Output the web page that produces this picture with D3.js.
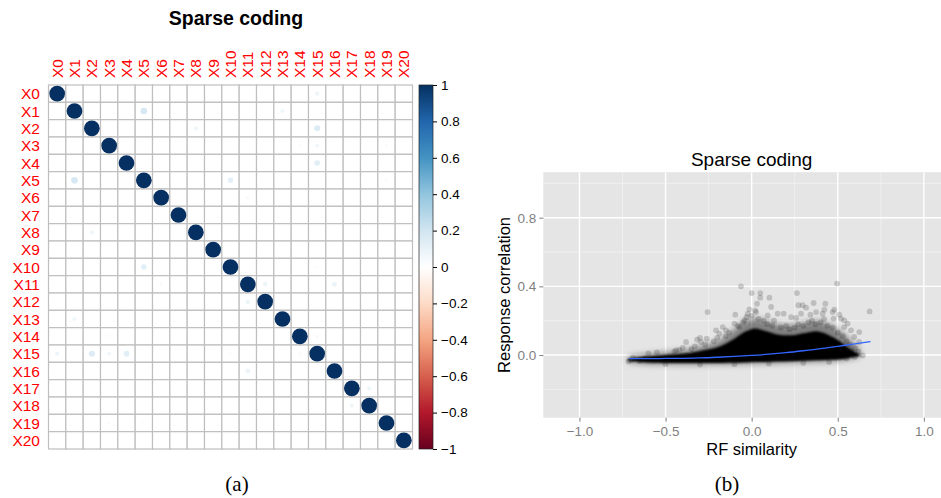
<!DOCTYPE html>
<html>
<head>
<meta charset="utf-8">
<script src="https://cdn.jsdelivr.net/npm/d3@7"></script>
<style>
  html, body { margin: 0; padding: 0; background: #fff; }
  svg { display: block; }
  text { font-family: "Liberation Sans", Arial, Helvetica, sans-serif; }
</style>
</head>
<body>
<svg id="fig" width="941" height="498"></svg>
<script>
// ---------- Panel (a): correlation matrix of sparse-coding units ----------
const units = d3.range(21).map(i => "X" + i);

// Lower triangle of the correlation matrix (row i holds columns 0..i-1); diagonal is 1.
const corrLower = [
  [],
  [0.01],
  [0.01, 0.01],
  [0.00, 0.01, 0.01],
  [0.01, 0.01, 0.01, 0.01],
  [0.01, 0.18, 0.01, 0.01, 0.01],
  [0.01, 0.00, 0.01, 0.01, 0.01, 0.01],
  [0.01, 0.02, 0.01, 0.00, 0.01, 0.01, 0.01],
  [0.01, 0.01, 0.07, 0.01, 0.01, 0.01, 0.00, 0.01],
  [0.01, 0.00, 0.01, 0.01, 0.01, 0.00, 0.01, 0.01, 0.02],
  [0.01, 0.01, 0.01, 0.01, 0.01, 0.12, 0.01, 0.00, 0.01, 0.01],
  [0.01, 0.01, 0.01, 0.01, 0.00, 0.00, 0.04, 0.00, 0.01, 0.01, 0.01],
  [0.00, 0.01, 0.01, 0.01, 0.01, 0.00, 0.01, 0.01, 0.01, 0.01, 0.00, 0.08],
  [0.01, 0.07, 0.01, 0.01, 0.01, 0.01, 0.01, 0.01, 0.01, 0.00, 0.01, 0.00, 0.01],
  [0.01, 0.01, 0.00, 0.03, 0.01, 0.00, 0.01, 0.01, 0.01, 0.02, 0.01, 0.01, 0.01, 0.01],
  [0.075, 0.01, 0.15, 0.065, 0.13, 0.01, 0.01, 0.01, 0.01, 0.01, 0.03, 0.01, 0.02, 0.01, 0.04],
  [0.01, 0.01, 0.01, 0.01, 0.01, 0.01, 0.01, 0.01, 0.01, 0.00, 0.00, 0.09, 0.01, 0.01, 0.01, 0.01],
  [0.01, 0.00, 0.01, 0.01, 0.01, 0.01, 0.01, 0.00, 0.01, 0.01, 0.00, 0.01, 0.01, 0.01, 0.01, 0.01, 0.01],
  [0.01, -0.01, -0.01, 0.01, -0.01, 0.01, -0.01, 0.01, 0.01, -0.01, 0.01, -0.02, 0.01, 0.01, 0.01, 0.01, 0.01, 0.07],
  [0.01, 0.00, 0.01, 0.03, 0.01, 0.03, 0.00, 0.01, 0.01, 0.01, 0.01, 0.01, 0.01, 0.01, 0.01, 0.01, 0.01, 0.01, 0.01],
  [0.00, 0.01, 0.01, 0.01, 0.01, 0.01, 0.01, 0.00, 0.01, 0.01, 0.01, 0.01, 0.01, 0.01, 0.01, 0.01, 0.01, 0.01, 0.01, 0.01]
];

// Diverging palette (red - white - blue) used for correlations.
const paletteStops = ["#67001F","#B2182B","#D6604D","#F4A582","#FDDBC7","#FFFFFF",
                      "#D1E5F0","#92C5DE","#4393C3","#2166AC","#053061"];
const legendTicks = [1, 0.8, 0.6, 0.4, 0.2, 0, -0.2, -0.4, -0.6, -0.8, -1];

// ---------- Panel (b): response correlation vs RF similarity ----------
// Dense core of the point cloud: upper / lower envelope at each RF similarity.
const coreX     = [-0.72, -0.65, -0.575, -0.5, -0.38, -0.3, -0.19, -0.1, -0.04, 0.02, 0.08, 0.15, 0.23, 0.31, 0.38, 0.46, 0.52, 0.58, 0.63];
const coreUpper = [-0.024, -0.013, -0.006, 0.0, 0.01, 0.024, 0.048, 0.095, 0.135, 0.155, 0.14, 0.12, 0.115, 0.128, 0.138, 0.11, 0.075, 0.03, 0.002];
const coreLower = [-0.034, -0.041, -0.045, -0.046, -0.047, -0.047, -0.046, -0.045, -0.043, -0.041, -0.04, -0.038, -0.036, -0.034, -0.031, -0.028, -0.024, -0.014, -0.004];
// Semi-dense halo around the core.
const haloUpper = [-0.012, 0.0, 0.008, 0.016, 0.03, 0.05, 0.085, 0.15, 0.2, 0.215, 0.2, 0.18, 0.175, 0.19, 0.2, 0.175, 0.135, 0.08, 0.03];
const haloLower = [-0.042, -0.049, -0.053, -0.054, -0.055, -0.055, -0.054, -0.053, -0.051, -0.049, -0.048, -0.046, -0.044, -0.042, -0.039, -0.036, -0.031, -0.022, -0.008];

// Individual sparse points outside the dense cloud.
const sparseX = [-0.256, -0.062, -0.095, -0.381, -0.40, -0.317, -0.294, -0.30, -0.261, -0.207, -0.188, -0.168, -0.149, -0.439, -0.714, -0.69,
  -0.1, -0.071, -0.042, -0.023, 0.496, 0.0, 0.05, 0.05, 0.103, 0.263, 0.271, 0.296, 0.316, 0.36, 0.428, 0.685, -0.013, 0.031, 0.026,
  0.113, 0.093, 0.151, 0.186, 0.229, 0.258, 0.287, 0.341, 0.374, 0.412, 0.422, 0.47, 0.48, 0.509, 0.538, 0.557, 0.538, 0.577, 0.625,
  0.596, 0.625, 0.645, 0.577, 0.519, 0.476,
  -0.6, -0.55, -0.45, -0.42, -0.35, -0.33, -0.27, -0.22, -0.2, -0.15, -0.13, -0.08, -0.05, -0.03, 0.0, 0.02, 0.04, 0.07, 0.09, 0.12,
  0.13, 0.17, 0.2, 0.22, 0.25, 0.27, 0.3, 0.33, 0.35, 0.37, 0.4, 0.42, 0.44, 0.47, 0.5, 0.53, 0.55, 0.57, 0.6, 0.62, 0.6, 0.55,
  -0.7, -0.65, -0.62, -0.5, -0.3, -0.1, 0.1, 0.3, 0.45];
const sparseY = [0.25, 0.40, 0.235, 0.076, 0.041, 0.09, 0.076, 0.10, 0.095, 0.144, 0.125, 0.163, 0.144, 0.027, -0.037, -0.015,
  0.183, 0.163, 0.202, 0.241, 0.416, 0.361, 0.361, 0.334, 0.334, 0.361, 0.29, 0.29, 0.276, 0.303, 0.299, 0.254, 0.266, 0.299, 0.25,
  0.28, 0.231, 0.241, 0.241, 0.221, 0.216, 0.241, 0.235, 0.25, 0.241, 0.264, 0.25, 0.264, 0.235, 0.202, 0.183, 0.163, 0.144, 0.134,
  0.105, 0.076, -0.002, 0.027, 0.212, 0.212,
  0.01, 0.015, 0.02, 0.03, 0.035, 0.05, 0.06, 0.08, 0.1, 0.11, 0.13, 0.17, 0.19, 0.22, 0.23, 0.26, 0.21, 0.2, 0.18, 0.17,
  0.2, 0.16, 0.17, 0.15, 0.16, 0.18, 0.17, 0.19, 0.2, 0.18, 0.19, 0.21, 0.17, 0.16, 0.13, 0.11, 0.08, 0.06, 0.04, 0.02, -0.01, -0.02,
  -0.03, -0.035, -0.02, -0.052, -0.055, -0.053, -0.05, -0.045, -0.04];

// Smoothed trend.
const smoothX = [-0.71, -0.6, -0.5, -0.4, -0.3, -0.2, -0.1, 0, 0.1, 0.2, 0.3, 0.4, 0.5, 0.6, 0.69];
const smoothY = [-0.021, -0.021, -0.02, -0.019, -0.017, -0.013, -0.008, -0.002, 0.005, 0.014, 0.025, 0.037, 0.051, 0.065, 0.078];

const xTicks = [-1, -0.5, 0, 0.5, 1];
const xMinor = [-0.75, -0.25, 0.25, 0.75];
const yTicks = [0, 0.4, 0.8];
const yMinor = [-0.2, 0.2, 0.6, 1.0];

// =====================================================================
const svg = d3.select("#fig");
const defs = svg.append("defs");

// ---------- draw panel (a) ----------
const gA = svg.append("g");
const gridL = 48.5, gridT = 85, gridSize = 364;
const band = d3.scaleBand().domain(units).range([0, gridSize]);
const cell = band.bandwidth();
const color = d3.scaleLinear()
  .domain(d3.range(11).map(i => -1 + i * 0.2))
  .range(paletteStops)
  .interpolate(d3.interpolateRgb);
const rScale = d3.scaleSqrt().domain([0, 1]).range([0, cell * 0.453]);

const cells = [];
units.forEach((ri, i) => {
  units.forEach((cj, j) => {
    let v;
    if (i === j) v = 1;
    else if (j < i) v = corrLower[i][j];
    else v = corrLower[j][i];
    cells.push({ row: ri, col: cj, v });
  });
});

const mat = gA.append("g").attr("transform", `translate(${gridL},${gridT})`);
mat.selectAll("rect.cell").data(cells).join("rect")
  .attr("class", "cell")
  .attr("x", d => band(d.col)).attr("y", d => band(d.row))
  .attr("width", cell).attr("height", cell)
  .attr("fill", "#fff").attr("stroke", "#BEBEBE").attr("stroke-width", 1.2);
mat.selectAll("circle").data(cells).join("circle")
  .attr("cx", d => band(d.col) + cell / 2)
  .attr("cy", d => band(d.row) + cell / 2)
  .attr("r", d => rScale(Math.abs(d.v)))
  .attr("fill", d => color(d.v));

// row labels
gA.append("g").selectAll("text").data(units).join("text")
  .attr("x", 40)
  .attr("y", d => gridT + band(d) + cell / 2)
  .attr("dy", "0.36em")
  .attr("text-anchor", "end")
  .attr("fill", "#FF0000")
  .style("font-size", "15.5px")
  .text(d => d);
// column labels (vertical)
gA.append("g").selectAll("text").data(units).join("text")
  .attr("transform", d => `translate(${gridL + band(d) + cell / 2},${gridT - 7}) rotate(-90)`)
  .attr("dy", "0.36em")
  .attr("text-anchor", "start")
  .attr("fill", "#FF0000")
  .style("font-size", "15.5px")
  .text(d => d);

gA.append("text")
  .attr("x", 236).attr("y", 25)
  .attr("text-anchor", "middle")
  .style("font-size", "19.5px").style("font-weight", "bold")
  .text("Sparse coding");

// colour legend
const legX = 419, legW = 14, legTop = 85, legBot = 449;
const legScale = d3.scaleLinear().domain([1, -1]).range([legTop, legBot]);
const grad = defs.append("linearGradient").attr("id", "corrGrad")
  .attr("x1", 0).attr("y1", 1).attr("x2", 0).attr("y2", 0);
paletteStops.forEach((c, i) => {
  grad.append("stop").attr("offset", (i / 10)).attr("stop-color", c);
});
gA.append("rect")
  .attr("x", legX).attr("y", legTop)
  .attr("width", legW).attr("height", legBot - legTop)
  .attr("fill", "url(#corrGrad)")
  .attr("stroke", "#222").attr("stroke-width", 0.7);
const legAxis = d3.axisRight(legScale)
  .tickValues(legendTicks)
  .tickSize(4).tickPadding(4)
  .tickFormat(d3.format("~g"));
const legG = gA.append("g")
  .attr("transform", `translate(${legX + legW},0)`)
  .call(legAxis);
legG.select(".domain").remove();
legG.selectAll("line").attr("stroke", "#000");
legG.selectAll("text")
  .style("font-size", "13.5px")
  .style("font-family", "'Liberation Sans', Arial, sans-serif")
  .attr("fill", "#000");

svg.append("text")
  .attr("x", 237).attr("y", 491)
  .attr("text-anchor", "middle")
  .style("font-family", "'Liberation Serif', 'Times New Roman', serif")
  .style("font-size", "21px")
  .text("(a)");

// ---------- draw panel (b) ----------
const gB = svg.append("g");
const pL = 543.3, pT = 172.2, pB = 417.7;
const xS = d3.scaleLinear().domain([-1.21, 1.21]).range([pL, pL + 2.42 * 172.2]);
const yS = d3.scaleLinear().domain([-0.365, 1.065]).range([pB, pT]);

const clip = defs.append("clipPath").attr("id", "panelClip");
clip.append("rect").attr("x", pL).attr("y", pT)
  .attr("width", xS.range()[1] - pL).attr("height", pB - pT);
const haloBlur = defs.append("filter").attr("id", "haloBlur")
  .attr("x", "-10%").attr("y", "-50%").attr("width", "120%").attr("height", "200%");
haloBlur.append("feGaussianBlur").attr("stdDeviation", 3);
const coreBlur = defs.append("filter").attr("id", "coreBlur")
  .attr("x", "-10%").attr("y", "-50%").attr("width", "120%").attr("height", "200%");
coreBlur.append("feGaussianBlur").attr("stdDeviation", 1.2);

gB.append("rect")
  .attr("x", pL).attr("y", pT)
  .attr("width", xS.range()[1] - pL).attr("height", pB - pT)
  .attr("fill", "#E5E5E5");

const gridG = gB.append("g").attr("clip-path", "url(#panelClip)");
gridG.selectAll("line.xmin").data(xMinor).join("line")
  .attr("x1", d => xS(d)).attr("x2", d => xS(d)).attr("y1", pT).attr("y2", pB)
  .attr("stroke", "#F2F2F2").attr("stroke-width", 0.8);
gridG.selectAll("line.ymin").data(yMinor).join("line")
  .attr("y1", d => yS(d)).attr("y2", d => yS(d)).attr("x1", pL).attr("x2", xS.range()[1])
  .attr("stroke", "#F2F2F2").attr("stroke-width", 0.8);
gridG.selectAll("line.xmaj").data(xTicks).join("line")
  .attr("x1", d => xS(d)).attr("x2", d => xS(d)).attr("y1", pT).attr("y2", pB)
  .attr("stroke", "#FFFFFF").attr("stroke-width", 1.4);
gridG.selectAll("line.ymaj").data(yTicks).join("line")
  .attr("y1", d => yS(d)).attr("y2", d => yS(d)).attr("x1", pL).attr("x2", xS.range()[1])
  .attr("stroke", "#FFFFFF").attr("stroke-width", 1.4);

// point cloud
const cloud = gB.append("g").attr("clip-path", "url(#panelClip)");
const haloArea = d3.area()
  .x((d, i) => xS(coreX[i]))
  .y0((d, i) => yS(haloLower[i]))
  .y1((d, i) => yS(haloUpper[i]))
  .curve(d3.curveCatmullRom);
const coreArea = d3.area()
  .x((d, i) => xS(coreX[i]))
  .y0((d, i) => yS(coreLower[i]))
  .y1((d, i) => yS(coreUpper[i]))
  .curve(d3.curveCatmullRom);
cloud.append("path").datum(coreX).attr("d", haloArea)
  .attr("fill", "#000").attr("fill-opacity", 0.45)
  .attr("filter", "url(#haloBlur)");
cloud.append("path").datum(coreX).attr("d", coreArea)
  .attr("fill", "#000")
  .attr("filter", "url(#coreBlur)");
cloud.selectAll("circle").data(sparseX).join("circle")
  .attr("cx", (d, i) => xS(sparseX[i]))
  .attr("cy", (d, i) => yS(sparseY[i]))
  .attr("r", 2.9)
  .attr("fill", "#000").attr("fill-opacity", 0.17);

const smoothLine = d3.line()
  .x((d, i) => xS(smoothX[i]))
  .y((d, i) => yS(smoothY[i]))
  .curve(d3.curveMonotoneX);
cloud.append("path").datum(smoothX).attr("d", smoothLine)
  .attr("fill", "none").attr("stroke", "#3366FF").attr("stroke-width", 1.3);

// axes
const xAxis = d3.axisBottom(xS).tickValues(xTicks).tickSize(4).tickPadding(5)
  .tickFormat(d3.format(".1f"));
const xg = gB.append("g").attr("transform", `translate(0,${pB})`).call(xAxis);
xg.select(".domain").remove();
xg.selectAll("line").attr("stroke", "#7F7F7F");
xg.selectAll("text").attr("fill", "#7F7F7F")
  .style("font-size", "13.5px").style("font-family", "'Liberation Sans', Arial, sans-serif");

const yAxis = d3.axisLeft(yS).tickValues(yTicks).tickSize(4).tickPadding(3)
  .tickFormat(d3.format(".1f"));
const yg = gB.append("g").attr("transform", `translate(${pL},0)`).call(yAxis);
yg.select(".domain").remove();
yg.selectAll("line").attr("stroke", "#7F7F7F");
yg.selectAll("text").attr("fill", "#7F7F7F")
  .style("font-size", "13.5px").style("font-family", "'Liberation Sans', Arial, sans-serif");

gB.append("text")
  .attr("x", xS(0)).attr("y", 455)
  .attr("text-anchor", "middle")
  .style("font-size", "16.5px")
  .text("RF similarity");
gB.append("text")
  .attr("transform", `translate(510,${(pT + pB) / 2}) rotate(-90)`)
  .attr("text-anchor", "middle")
  .style("font-size", "16.5px")
  .text("Response correlation");
gB.append("text")
  .attr("x", xS(0)).attr("y", 166)
  .attr("text-anchor", "middle")
  .style("font-size", "19px")
  .text("Sparse coding");

svg.append("text")
  .attr("x", 727).attr("y", 491)
  .attr("text-anchor", "middle")
  .style("font-family", "'Liberation Serif', 'Times New Roman', serif")
  .style("font-size", "21px")
  .text("(b)");
</script>
</body>
</html>
